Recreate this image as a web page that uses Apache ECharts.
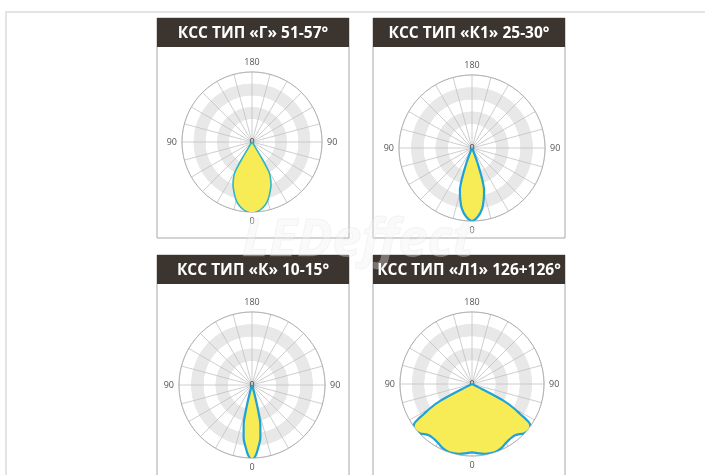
<!DOCTYPE html>
<html>
<head>
<meta charset="utf-8">
<script src="https://cdn.jsdelivr.net/npm/echarts@6/dist/echarts.min.js"></script>
<style>
html,body{margin:0;padding:0;background:#fff;}
#c{width:705px;height:475px;}
</style>
</head>
<body>
<div id="c"></div>
<script>
// ---- Data ----
const titles = ['КСС ТИП «Г» 51-57°', 'КСС ТИП «К1» 25-30°', 'КСС ТИП «К» 10-15°', 'КСС ТИП «Л1» 126+126°'];
const angleTickLabels = {0: '0', 90: '90', 180: '180', 270: '90'};
const radiusMax = 120;
const radiusStep = 20;

// half-curves: angle from nadir (deg) and intensity (outer ring = 120)
const anglesG  = [0, 4, 8, 12, 15, 18, 21, 24, 27, 29, 30, 31, 32, 32.5];
const valuesG  = [122, 120, 116, 110, 104, 96, 88, 80, 70, 62, 55, 34, 10, 0];
const anglesK1 = [0, 5, 9.5, 13, 16, 17.5, 18.5, 19.5, 20.5, 21.5, 22.5, 23];
const valuesK1 = [120, 113, 101, 86, 72, 60, 48, 35, 25, 16, 6, 0];
const anglesK  = [0, 3, 6, 9, 12, 13, 14, 15, 16, 16.5];
const valuesK  = [122, 116, 102, 88, 66, 52, 34, 20, 10, 0];
const anglesL1 = [0, 5, 9.5, 13.5, 17.6, 21.5, 25.4, 29, 32.5, 36.5, 40.5, 43.5, 45.9, 48.5, 50.8, 53.5, 55.5, 57, 58, 60, 62, 63, 64];
const valuesL1 = [114, 116, 118, 119, 120, 119, 117, 114, 112, 111, 112, 115, 119, 121, 122, 121, 117, 106, 95, 80, 60, 25, 0];

const curves = [
  {angles: anglesG,  values: valuesG},
  {angles: anglesK1, values: valuesK1},
  {angles: anglesK,  values: valuesK},
  {angles: anglesL1, values: valuesL1}
];

// ---- Layout (positions/styles) ----
const panels = [
  {x: 157, y: 18,  w: 192, hh: 29, h: 220, center: [252, 142], r: 70, line: '#33b6c6', lw: 1.6, fs: 15.5},
  {x: 373, y: 18,  w: 192, hh: 29, h: 220, center: [472, 148], r: 73, line: '#1ea2d8', lw: 2.2, fs: 15.5},
  {x: 157, y: 255, w: 192, hh: 29, h: 225, center: [252, 385], r: 73, line: '#1ea2d8', lw: 2.2, fs: 15.5},
  {x: 373, y: 255, w: 192, hh: 29, h: 225, center: [472, 384], r: 72, line: '#1ea2d8', lw: 2.2, fs: 15.5}
];

function mirrored(c) {
  const pts = [];
  for (let i = c.angles.length - 1; i >= 1; i--) pts.push([c.values[i], 360 - c.angles[i]]);
  for (let i = 0; i < c.angles.length; i++) pts.push([c.values[i], c.angles[i]]);
  return pts;
}

const chart = echarts.init(document.getElementById('c'), null, {renderer: 'canvas'});

const polar = [], angleAxis = [], radiusAxis = [], series = [], graphic = [];

graphic.push({
  type: 'rect', shape: {x: 6, y: 12, width: 720, height: 480},
  style: {fill: 'none', stroke: '#e4e4e4', lineWidth: 2}, z: 0
});

panels.forEach((p, i) => {
  polar.push({center: p.center, radius: p.r});
  angleAxis.push({
    polarIndex: i, type: 'value', min: 0, max: 360, interval: 15,
    startAngle: 270, clockwise: true,
    axisLine: {show: true, lineStyle: {color: '#b0b0b0', width: 1}},
    axisTick: {show: false},
    axisLabel: {
      show: true, margin: 5, color: '#555', fontSize: 9, fontFamily: 'Open Sans',
      formatter: v => (angleTickLabels[v] !== undefined ? angleTickLabels[v] : '')
    },
    splitLine: {show: true, lineStyle: {color: '#c2c2c2', width: 0.8}}
  });
  radiusAxis.push({
    polarIndex: i, type: 'value', min: 0, max: radiusMax, interval: radiusStep,
    axisLine: {show: false}, axisTick: {show: false},
    axisLabel: {
      show: true, margin: 0, color: '#444', fontSize: 9, fontFamily: 'Open Sans',
      align: 'center', verticalAlign: 'middle',
      formatter: v => (v === 0 ? '0' : '')
    },
    splitLine: {show: true, lineStyle: {color: '#c2c2c2', width: 0.8}},
    splitArea: {show: true, areaStyle: {color: ['#ffffff', '#ffffff', '#e8e8e8', '#ffffff', '#e8e8e8', '#ffffff']}}
  });
  series.push({
    type: 'line', coordinateSystem: 'polar', polarIndex: i,
    data: mirrored(curves[i]), symbol: 'none', smooth: 0.35,
    lineStyle: {color: p.line, width: p.lw},
    areaStyle: {color: '#f7ec55', opacity: 1},
    animation: false, z: 3
  });

  graphic.push({
    type: 'rect', shape: {x: p.x, y: p.y, width: p.w, height: p.h},
    style: {fill: 'none', stroke: '#a8a8a8', lineWidth: 1}, z: 1
  });
  graphic.push({
    type: 'rect', shape: {x: p.x, y: p.y, width: p.w, height: p.hh},
    style: {fill: '#3c342e'}, z: 2
  });
  graphic.push({
    type: 'text', x: p.x + p.w / 2, y: p.y + p.hh / 2 + 1,
    style: {
      text: titles[i], fill: '#ffffff', font: '700 ' + p.fs + 'px "Open Sans"',
      textAlign: 'center', textVerticalAlign: 'middle'
    }, z: 3
  });
});

// faint watermark
graphic.push({
  type: 'text', x: 358, y: 241,
  style: {
    text: 'LEDeffect', fill: 'rgba(240,240,240,0.35)', stroke: 'rgba(200,200,200,0.2)', lineWidth: 1,
    font: 'italic bold 52px "Open Sans"', textAlign: 'center', textVerticalAlign: 'middle'
  }, z: 10, silent: true
});

chart.setOption({
  backgroundColor: '#ffffff',
  animation: false,
  polar, angleAxis, radiusAxis, series, graphic
});
</script>
</body>
</html>
